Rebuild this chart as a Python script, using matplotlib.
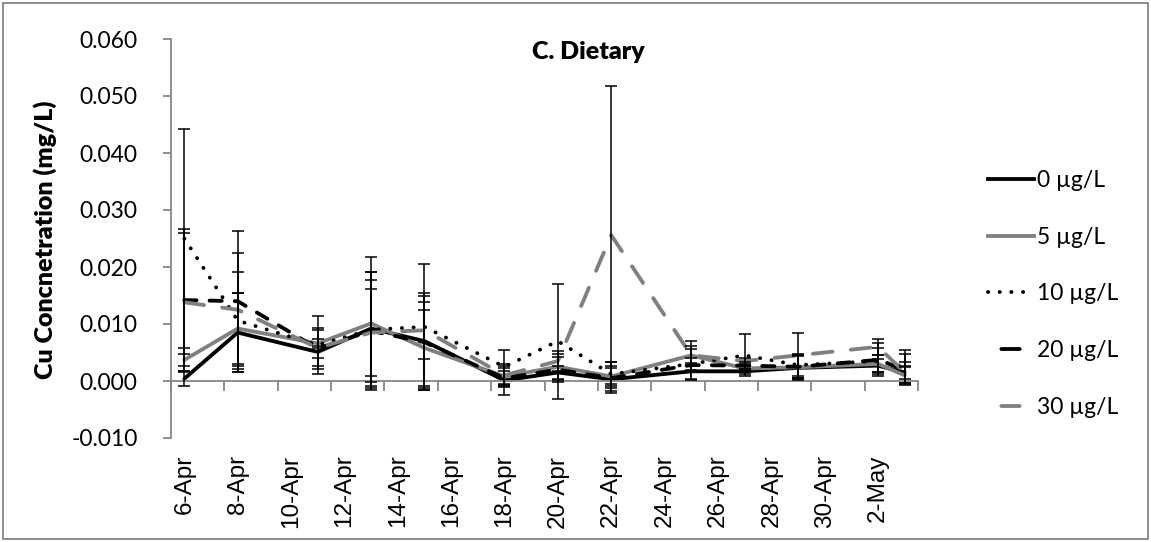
import matplotlib
matplotlib.use("Agg")
import matplotlib.pyplot as plt
import matplotlib.dates as mdates
from matplotlib.lines import Line2D
from matplotlib.patches import Rectangle
import numpy as np
import pandas as pd

# sampling days
dates = ["2012-04-06", "2012-04-08", "2012-04-11", "2012-04-13", "2012-04-15",
         "2012-04-18", "2012-04-20", "2012-04-22", "2012-04-25", "2012-04-27",
         "2012-04-29", "2012-05-02", "2012-05-03"]

# mean Cu (mg/L) and standard deviation for each treatment
cu_0 = [0.0004, 0.0085, 0.0051, 0.0092, 0.0070, 0.0001, 0.0015, 0.0003, 0.0017, 0.0017, 0.0023, 0.0027, 0.0015]
sd_0 = [0.0013, 0.0070, 0.0010, 0.0100, 0.0085, 0.0025, 0.0012, 0.0024, 0.0015, 0.0004, 0.0020, 0.0012, 0.0018]

cu_5 = [0.0037, 0.0092, 0.0066, 0.0101, 0.0058, 0.0008, 0.0025, 0.0008, 0.0045, 0.0022, 0.0024, 0.0030, 0.0010]
sd_5 = [0.0010, 0.0062, 0.0008, 0.0116, 0.0066, 0.0015, 0.0023, 0.0025, 0.0026, 0.0005, 0.0022, 0.0015, 0.0015]

cu_10 = [0.0250, 0.0106, 0.0063, 0.0090, 0.0095, 0.0025, 0.0070, 0.0012, 0.0030, 0.0045, 0.0028, 0.0035, 0.0025]
sd_10 = [0.0192, 0.0085, 0.0051, 0.0102, 0.0110, 0.0030, 0.0101, 0.0021, 0.0027, 0.0037, 0.0020, 0.0023, 0.0029]

cu_20 = [0.0142, 0.0140, 0.0057, 0.0088, 0.0068, 0.0005, 0.0020, 0.0005, 0.0028, 0.0027, 0.0025, 0.0037, 0.0020]
sd_20 = [0.0125, 0.0124, 0.0036, 0.0090, 0.0081, 0.0013, 0.0022, 0.0017, 0.0012, 0.0006, 0.0020, 0.0029, 0.0027]

cu_30 = [0.0138, 0.0125, 0.0058, 0.0085, 0.0089, 0.0010, 0.0035, 0.0256, 0.0045, 0.0035, 0.0045, 0.0060, 0.0015]
sd_30 = [0.0122, 0.0099, 0.0032, 0.0076, 0.0050, 0.0020, 0.0018, 0.0262, 0.0017, 0.0005, 0.0039, 0.0014, 0.0012]

labels = ["0 µg/L", "5 µg/L", "10 µg/L", "20 µg/L", "30 µg/L"]
y_ticks = [-0.010, 0.000, 0.010, 0.020, 0.030, 0.040, 0.050, 0.060]

plt.rcParams["font.family"] = ["Lato", "DejaVu Sans"]
plt.rcParams["axes.unicode_minus"] = False

axis_grey = "#868686"
line_grey = "#808080"
lw = 2.75

x = mdates.date2num(pd.to_datetime(dates))
first_day = mdates.date2num(pd.Timestamp("2012-04-06"))
last_day = mdates.date2num(pd.Timestamp("2012-05-03"))

fig = plt.figure(figsize=(11.51, 5.42), dpi=100)
ax = fig.add_axes([171 / 1151, 1 - 438 / 542, (918 - 171) / 1151, (438 - 39) / 542])

styles = [
    dict(color="black", linestyle="-"),
    dict(color=line_grey, linestyle="-"),
    dict(color="black", linestyle=(0, (0.05, 3.0))),
    dict(color="black", linestyle=(0, (3.2, 3.4))),
    dict(color=line_grey, linestyle=(0, (5.2, 4.8))),
]
means = [cu_0, cu_5, cu_10, cu_20, cu_30]
sds = [sd_0, sd_5, sd_10, sd_20, sd_30]

for m, s, st in zip(means, sds, styles):
    ax.plot(x, m, lw=lw, dash_capstyle="round", solid_capstyle="round", zorder=2, **st)
    ax.errorbar(x, m, yerr=s, fmt="none", ecolor="black", elinewidth=1.1,
                capsize=4.3, capthick=1.1, zorder=3)

ax.set_xlim(first_day - 0.5, last_day + 0.5)
ax.set_ylim(-0.010, 0.060)

# y axis
ax.set_yticks(y_ticks)
ax.set_yticklabels([f"{v:.3f}" for v in y_ticks])
ax.tick_params(axis="y", direction="out", length=6, width=1.3, color=axis_grey,
               labelsize=16.5, pad=18)

# x axis line sits at zero, tick marks between day slots
ax.spines["top"].set_visible(False)
ax.spines["right"].set_visible(False)
ax.spines["left"].set_color(axis_grey)
ax.spines["left"].set_linewidth(1.3)
ax.spines["bottom"].set_position(("data", 0))
ax.spines["bottom"].set_color(axis_grey)
ax.spines["bottom"].set_linewidth(1.3)
ax.set_xticks(np.arange(first_day - 0.5, last_day + 0.6, 2))
ax.tick_params(axis="x", direction="out", length=7, width=1.3, color=axis_grey,
               labelbottom=False)

# date labels along the bottom of the plot area
label_days = pd.date_range("2012-04-06", "2012-05-02", freq="2D")
sec = ax.secondary_xaxis(0)
sec.set_xticks(mdates.date2num(label_days),
               labels=[f"{d.day}-{d.strftime('%b')}" for d in label_days])
sec.tick_params(length=0, pad=12, labelsize=17.5, labelrotation=90)
sec.spines["bottom"].set_visible(False)
for t in sec.get_xticklabels():
    t.set_fontfamily(["Liberation Sans", "DejaVu Sans"])

fig.text(588 / 1151, 1 - 52 / 542, "C. Dietary", ha="center", va="center",
         fontsize=18, fontweight="heavy")
fig.text(45 / 1151, 1 - 240 / 542, "Cu Concnetration (mg/L)", ha="center",
         va="center", rotation=90, fontsize=18, fontweight="heavy")

handles = [
    Line2D([], [], color="black", lw=lw),
    Line2D([], [], color=line_grey, lw=lw),
    Line2D([], [], color="black", lw=lw, linestyle=(0, (0.05, 3.0)), dash_capstyle="round"),
    Line2D([], [], color="black", lw=lw, linestyle=(11.3, (4.8, 10)), dash_capstyle="round"),
    Line2D([], [], color=line_grey, lw=lw, linestyle=(11.3, (4.8, 10)), dash_capstyle="round"),
]
fig.legend(handles, labels, loc="center left", bbox_to_anchor=(988 / 1151, 1 - 294 / 542),
           frameon=False, fontsize=16.5, handlelength=2.0, handletextpad=0.15,
           labelspacing=1.55, borderpad=0, borderaxespad=0)

fig.patches.append(Rectangle((3 / 1151, 3 / 542), 1145 / 1151, 536 / 542,
                             transform=fig.transFigure, fill=False,
                             edgecolor=axis_grey, lw=1.3))

fig.savefig("out.png", dpi=100)
